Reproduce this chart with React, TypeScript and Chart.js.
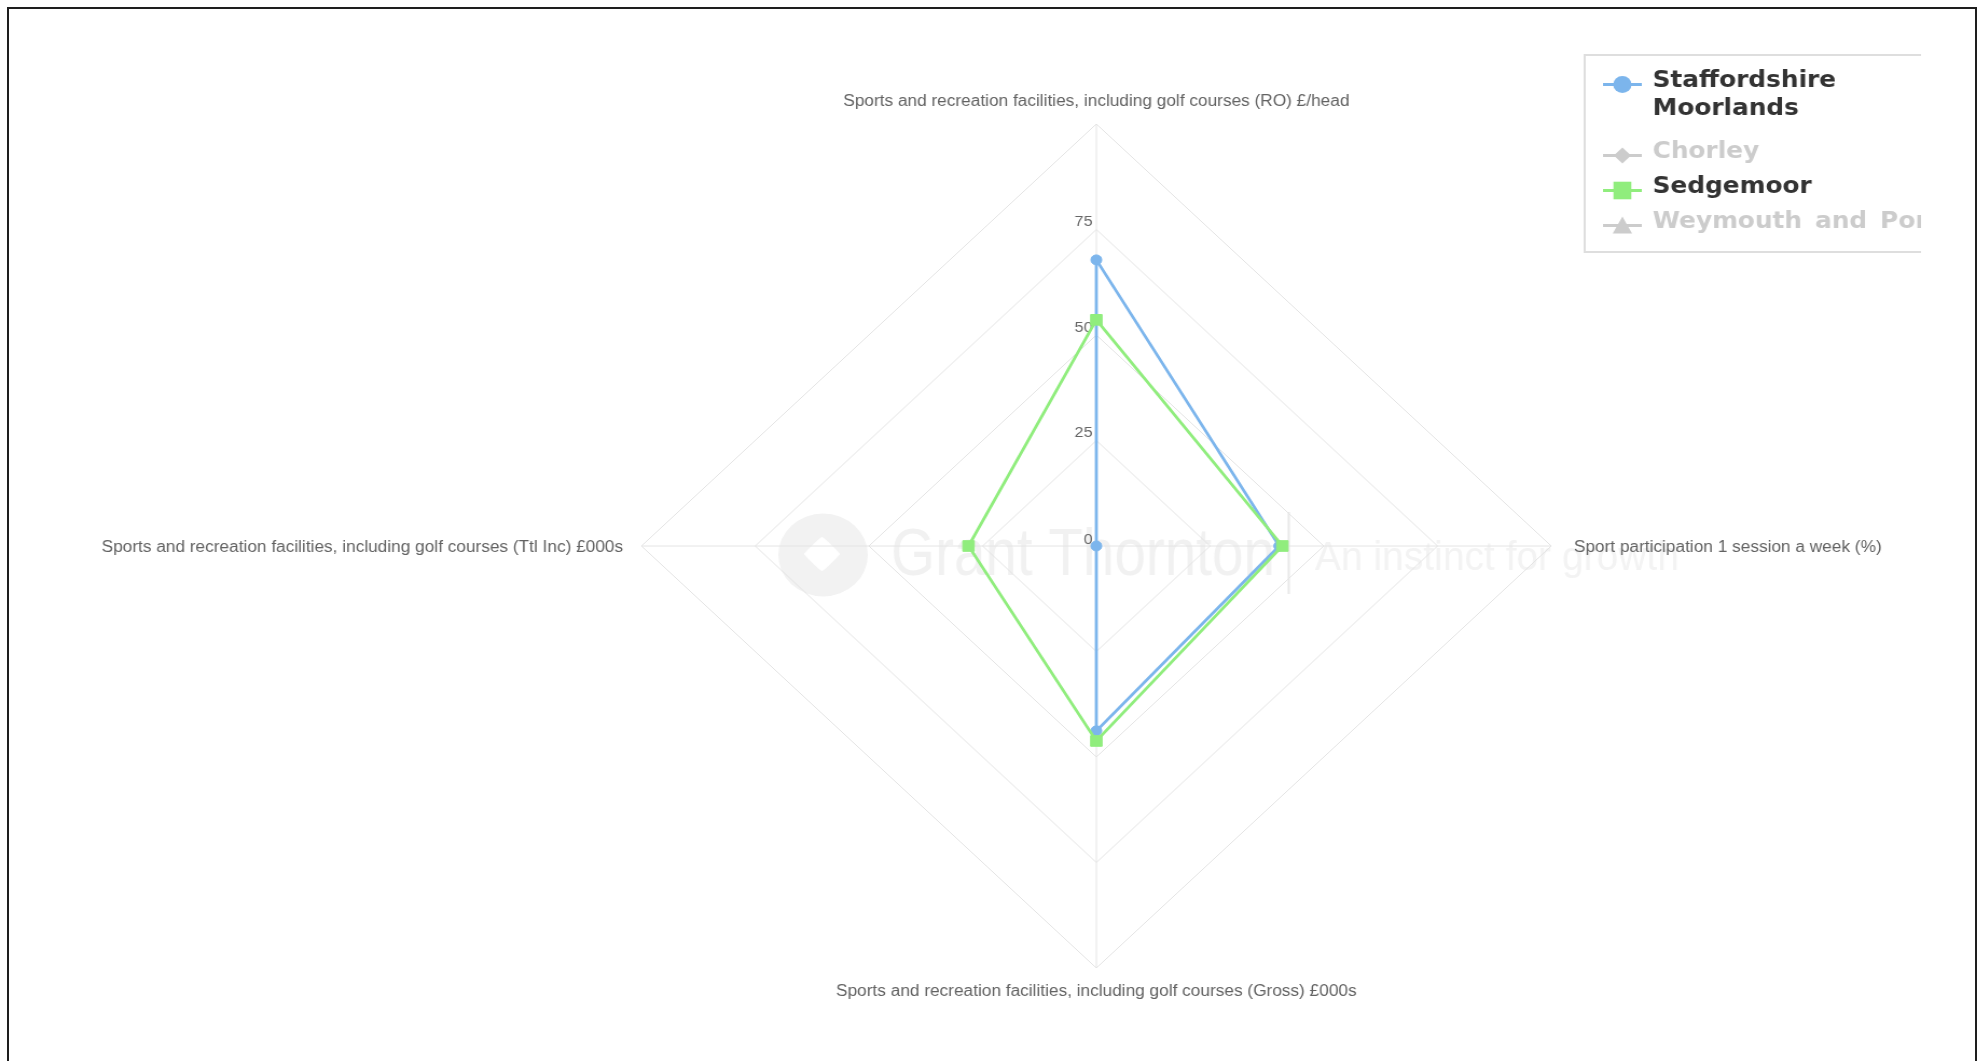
import { useEffect, useRef } from "react";
import { Chart, registerables } from "chart.js";

Chart.register(...registerables);

// Radar spokes, clockwise from the top
const AXIS_LABELS = [
  "Sports and recreation facilities, including golf courses (RO) £/head",
  "Sport participation 1 session a week (%)",
  "Sports and recreation facilities, including golf courses (Gross) £000s",
  "Sports and recreation facilities, including golf courses (Ttl Inc) £000s",
];

const SERIES_NAMES = ["Staffordshire Moorlands", "Chorley", "Sedgemoor", "Weymouth and Portland"];
const LEGEND_LINES = [["Staffordshire", "Moorlands"], ["Chorley"], ["Sedgemoor"], ["Weymouth and Portland"]];

const STAFFORDSHIRE_MOORLANDS = [67.8, 40.2, 43.8, 0];
const CHORLEY: number[] = [];
const SEDGEMOOR = [53.6, 40.9, 46.2, 28.1];
const WEYMOUTH_AND_PORTLAND: number[] = [];

const TICK_LABELS = [0, 25, 50, 75];
const SCALE_MAX = 100;
const SCALE_STEP = 25;

const BLUE = "#7cb5ec";
const GREEN = "#90ed7d";
const HIDDEN_GREY = "#cccccc";
const GRID = "#e4e4e4";

// The drawing is stretched horizontally on screen
const STRETCH_X = 1.078;
const CANVAS_W = 1839;
const CANVAS_H = 1061;

const watermark = {
  id: "watermark",
  beforeDraw(chart: any) {
    const s = chart.scales.r;
    const ctx: CanvasRenderingContext2D = chart.ctx;
    const xc = s.xCenter;
    const yc = s.yCenter;
    ctx.save();
    // logo disc
    ctx.fillStyle = "#f2f2f2";
    ctx.beginPath();
    ctx.arc(xc - 253.5, yc + 9, 41.5, 0, Math.PI * 2);
    ctx.fill();
    ctx.fillStyle = "#ffffff";
    ctx.beginPath();
    const lx = xc - 254.5, ly = yc + 8, h = 17;
    ctx.moveTo(lx, ly - h);
    ctx.quadraticCurveTo(lx + 3, ly - h + 1, lx + h, ly);
    ctx.quadraticCurveTo(lx + 3, ly + h - 1, lx, ly + h);
    ctx.quadraticCurveTo(lx - 3, ly + h - 1, lx - h, ly);
    ctx.quadraticCurveTo(lx - 3, ly - h + 1, lx, ly - h);
    ctx.fill();

    const fitText = (text: string, font: string, left: number, width: number, baseline: number, color: string) => {
      ctx.font = font;
      const w = ctx.measureText(text).width;
      ctx.save();
      ctx.translate(left, baseline);
      ctx.scale(width / w, 1);
      ctx.fillStyle = color;
      ctx.textAlign = "left";
      ctx.textBaseline = "alphabetic";
      ctx.fillText(text, 0, 0);
      ctx.restore();
    };
    fitText("Grant Thornton", '66px "Liberation Sans"', xc - 190.4, 356, yc + 29, "#f1f1f1");
    ctx.fillStyle = "#e8e8e8";
    ctx.fillRect(xc + 177.5, yc - 34, 2, 82);
    fitText("An instinct for growth", '40px "Liberation Sans"', xc + 202.8, 337.7, yc + 24, "#f3f3f3");
    ctx.restore();
  },
};

const radarText = {
  id: "radarText",
  beforeDatasetsDraw(chart: any) {
    const s = chart.scales.r;
    const ctx: CanvasRenderingContext2D = chart.ctx;
    ctx.save();
    // value ticks, left of the vertical spoke
    ctx.font = '15px "Liberation Sans"';
    ctx.fillStyle = "#666666";
    ctx.textAlign = "right";
    ctx.textBaseline = "alphabetic";
    TICK_LABELS.forEach((v) => {
      const d = s.getDistanceFromCenterForValue(v);
      ctx.fillText(String(v), s.xCenter - 3.5, s.yCenter - d - (v === 0 ? 2 : 3.5));
    });
    // spoke labels
    ctx.font = '16px "Liberation Sans"';
    ctx.fillStyle = "#626262";
    const labels: string[] = chart.data.labels;
    labels.forEach((label, i) => {
      const p = s.getPointPosition(i, s.drawingArea);
      if (i === 0) {
        ctx.textAlign = "center";
        ctx.fillText(label, p.x, p.y - 18.5);
      } else if (i === 1) {
        ctx.textAlign = "left";
        ctx.fillText(label, p.x + 21, p.y + 6);
      } else if (i === 2) {
        ctx.textAlign = "center";
        ctx.fillText(label, p.x, p.y + 27.5);
      } else {
        ctx.textAlign = "right";
        ctx.fillText(label, p.x - 17, p.y + 6);
      }
    });
    ctx.restore();
  },
};

function drawLegendMarker(ctx: CanvasRenderingContext2D, style: string, x: number, y: number, color: string) {
  ctx.fillStyle = color;
  ctx.beginPath();
  if (style === "circle") {
    ctx.arc(x, y, 8.5, 0, Math.PI * 2);
  } else if (style === "rect") {
    ctx.rect(x - 8.3, y - 8.8, 16.6, 17.6);
  } else if (style === "rectRot") {
    ctx.moveTo(x, y - 8);
    ctx.lineTo(x + 8, y);
    ctx.lineTo(x, y + 8);
    ctx.lineTo(x - 8, y);
    ctx.closePath();
  } else {
    ctx.moveTo(x, y - 9);
    ctx.lineTo(x + 9, y + 8);
    ctx.lineTo(x - 9, y + 8);
    ctx.closePath();
  }
  ctx.fill();
}

const boxLegend = {
  id: "boxLegend",
  afterDraw(chart: any) {
    const ctx: CanvasRenderingContext2D = chart.ctx;
    ctx.save();
    ctx.beginPath();
    ctx.rect(0, 0, 1782, CANVAS_H);
    ctx.clip();
    ctx.strokeStyle = "#dedede";
    ctx.lineWidth = 2;
    ctx.strokeRect(1470, 55, 420, 197);

    let y = 87;
    chart.data.datasets.forEach((ds: any, i: number) => {
      const visible = chart.isDatasetVisible(i);
      const color = visible ? ds.borderColor : HIDDEN_GREY;
      const my = y - 2.5;
      ctx.strokeStyle = color;
      ctx.lineWidth = 3;
      ctx.beginPath();
      ctx.moveTo(1487, my);
      ctx.lineTo(1523, my);
      ctx.stroke();
      drawLegendMarker(ctx, ds.pointStyle, 1505, my, color);

      const lines = LEGEND_LINES[i];
      ctx.font = 'bold 23px "DejaVu Sans"';
      (ctx as any).wordSpacing = "4px";
      ctx.fillStyle = visible ? "#333333" : HIDDEN_GREY;
      ctx.textAlign = "left";
      ctx.textBaseline = "alphabetic";
      lines.forEach((t, k) => ctx.fillText(t, 1533, y + k * 28));
      y += (lines.length - 1) * 28 + 35 + (lines.length > 1 ? 8 : 0);
    });
    ctx.restore();
  },
};

export default function App() {
  const canvasRef = useRef<HTMLCanvasElement>(null);

  useEffect(() => {
    const canvas = canvasRef.current;
    if (!canvas) return;
    const chart = new Chart(canvas, {
      type: "radar",
      data: {
        labels: AXIS_LABELS,
        datasets: [
          {
            label: SERIES_NAMES[0],
            data: STAFFORDSHIRE_MOORLANDS,
            borderColor: BLUE,
            backgroundColor: BLUE,
            pointBackgroundColor: BLUE,
            pointBorderColor: BLUE,
            pointStyle: "circle",
            pointRadius: 5,
            pointBorderWidth: 1,
            borderWidth: 2.8,
            fill: false,
            order: 1,
          },
          {
            label: SERIES_NAMES[1],
            data: CHORLEY,
            hidden: true,
            borderColor: "#434348",
            backgroundColor: "#434348",
            pointStyle: "rectRot",
            fill: false,
            order: 1,
          },
          {
            label: SERIES_NAMES[2],
            data: SEDGEMOOR,
            borderColor: GREEN,
            backgroundColor: GREEN,
            pointBackgroundColor: GREEN,
            pointBorderColor: GREEN,
            pointStyle: "rect",
            pointRadius: 7.5,
            pointBorderWidth: 1,
            borderWidth: 2.8,
            fill: false,
            order: 0,
          },
          {
            label: SERIES_NAMES[3],
            data: WEYMOUTH_AND_PORTLAND,
            hidden: true,
            borderColor: "#f7a35c",
            backgroundColor: "#f7a35c",
            pointStyle: "triangle",
            fill: false,
            order: 1,
          },
        ],
      },
      options: {
        responsive: false,
        animation: false,
        layout: { padding: { top: 124, bottom: 93, left: 595, right: 400 } },
        plugins: {
          legend: { display: false },
          tooltip: { enabled: false },
          title: { display: false },
        },
        elements: { line: { tension: 0 } },
        scales: {
          r: {
            min: 0,
            max: SCALE_MAX,
            ticks: { stepSize: SCALE_STEP, display: false },
            grid: { color: GRID, lineWidth: 1 },
            angleLines: { color: GRID, lineWidth: 1 },
            pointLabels: { display: false },
          },
        },
      },
      plugins: [watermark, radarText, boxLegend],
    });
    return () => chart.destroy();
  }, []);

  return (
    <div
      style={{
        position: "fixed",
        left: 0,
        top: 0,
        width: 1982,
        height: 1061,
        overflow: "hidden",
        background: "#ffffff",
      }}
    >
      <canvas
        ref={canvasRef}
        width={CANVAS_W}
        height={CANVAS_H}
        style={{
          position: "absolute",
          left: 0,
          top: 0,
          transform: `scaleX(${STRETCH_X})`,
          transformOrigin: "0 0",
        }}
      />
      <div
        style={{
          position: "absolute",
          left: 7,
          top: 7,
          width: 1970,
          height: 1200,
          border: "2px solid #1e1e1e",
          boxSizing: "border-box",
          pointerEvents: "none",
        }}
      />
    </div>
  );
}
